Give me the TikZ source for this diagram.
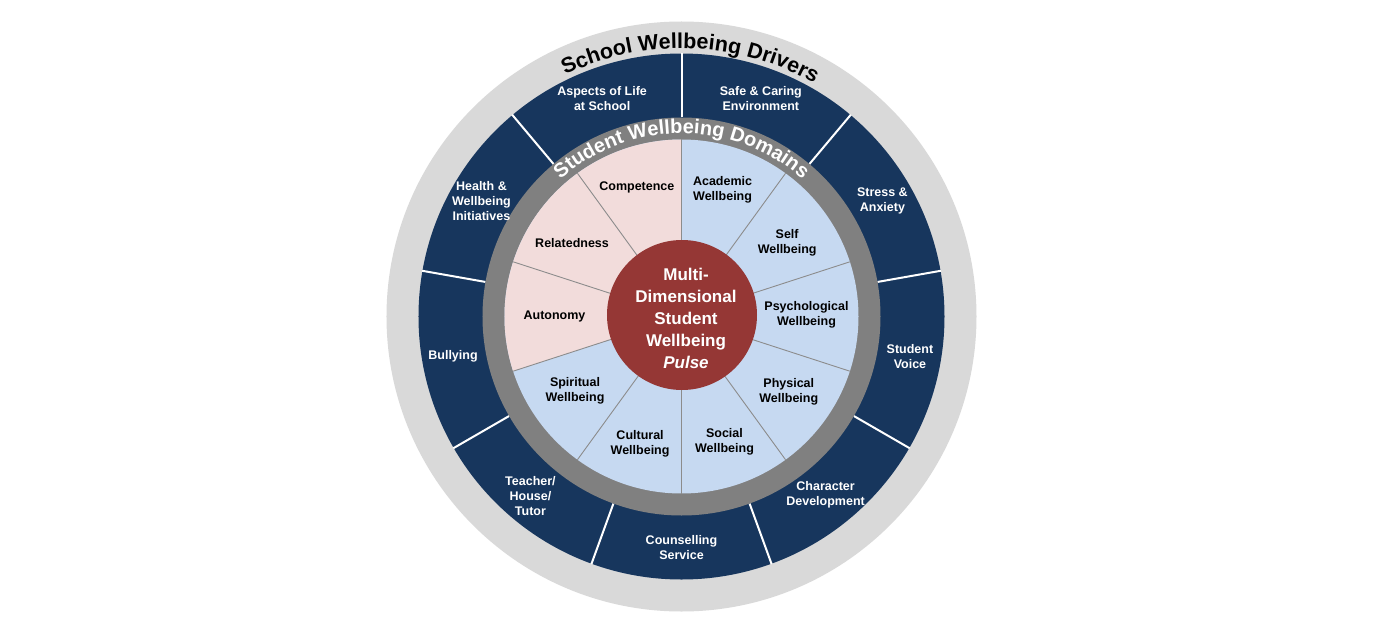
\documentclass[tikz,border=0pt]{standalone}
\usepackage{fontspec}
\setmainfont{Liberation Sans}
\usetikzlibrary{decorations.text}
\definecolor{navyc}{RGB}{23,54,93}
\definecolor{ltgray}{RGB}{217,217,217}
\definecolor{dkgray}{RGB}{128,128,128}
\definecolor{pinkc}{RGB}{242,220,219}
\definecolor{bluec}{RGB}{198,217,241}
\definecolor{redc}{RGB}{149,55,53}
\definecolor{seplinec}{RGB}{140,140,140}
\tikzset{
  driverlabel/.style={text=white, font=\bfseries\fontsize{12.5}{15}\selectfont, align=center, inner sep=0pt},
  domlabel/.style={text=black, font=\bfseries\fontsize{12.5}{15}\selectfont, align=center, inner sep=0pt},
  wline/.style={white, line width=2pt},
  gline/.style={seplinec, line width=0.9pt},
}
\begin{document}
\begin{tikzpicture}[x=1pt,y=1pt]
\useasboundingbox[fill=white] (-681.5,-323.5) rectangle (704.5,316.5);
\coordinate (O) at (0,0);
% outer rings
\fill[ltgray] (O) circle (295);
\fill[navyc] (O) circle (263);
\foreach \a in {90,50,10,-30,-70,-110,-150,170,130}
  \draw[wline] (\a:199) -- (\a:263.5);
\fill[dkgray] (O) circle (199);
% inner domains
\fill[bluec] (O) circle (177);
\fill[pinkc] (O) -- (90:177) arc[start angle=90, end angle=198, radius=177] -- cycle;
\foreach \a in {90,54,18,-18,-54,-90,-126,-162,162,126}
  \draw[gline] (O) -- (\a:177);
% centre
\fill[redc] (0.5,1.5) circle (75);
\node[text=white, font=\bfseries\fontsize{17}{22}\selectfont, align=center, inner sep=0pt] (pulse) at (4.5,-2)
  {Multi-\\Dimensional\\Student\\Wellbeing\\\textit{Pulse}};
% ring titles
\path[decorate, decoration={text along path, text align=center,
   text={|\bfseries\fontsize{21.5}{22}\selectfont|School Wellbeing Drivers}}]
   (178:268) arc[start angle=178, end angle=-2, radius=268];
\path[decorate, decoration={text along path, text align=center, text color=white,
   text={|\bfseries\fontsize{20}{20}\selectfont|Student Wellbeing Domains}}]
   (180:183) arc[start angle=180, end angle=0, radius=183];
% driver labels
\node[driverlabel] (d1) at (110:232) {Aspects of Life\\at School};
\node[driverlabel] (d2) at (70:232) {Safe \& Caring\\Environment};
\node[driverlabel] (d3) at (30:232) {Stress \&\\Anxiety};
\node[driverlabel] (d4) at (-10:232) {Student\\Voice};
\node[driverlabel] (d5) at (-51:229) {Character\\Development};
\node[driverlabel] (d6) at (-90:231) {Counselling\\Service};
\node[driverlabel] (d7) at (-130:235) {Teacher/\\House/\\Tutor};
\node[driverlabel] (d8) at (190:232) {Bullying};
\node[driverlabel] (d9) at (150:231) {Health \&\\Wellbeing\\Initiatives};
% domain labels
\node[domlabel] (m1) at (72:133) {Academic\\Wellbeing};
\node[domlabel] (m2) at (35:129) {Self\\Wellbeing};
\node[domlabel] (m3) at (1:125) {Psychological\\Wellbeing};
\node[domlabel] (m4) at (-35:131) {Physical\\Wellbeing};
\node[domlabel] (m5) at (-71:132) {Social\\Wellbeing};
\node[domlabel] (m6) at (-108:134) {Cultural\\Wellbeing};
\node[domlabel] (m7) at (-145:130) {Spiritual\\Wellbeing};
\node[domlabel] (m8) at (180:127) {Autonomy};
\node[domlabel] (m9) at (146:132) {Relatedness};
\node[domlabel] (m10) at (109:137) {Competence};
\end{tikzpicture}
\end{document}
